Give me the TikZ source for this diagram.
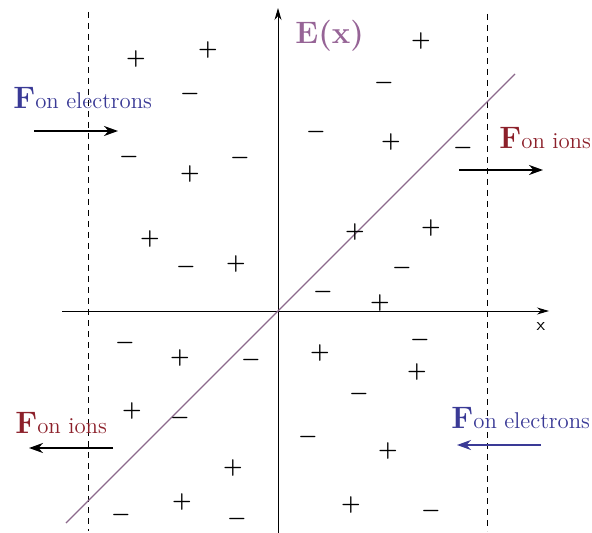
\documentclass[tikz,border=0pt]{standalone}
\usetikzlibrary{arrows.meta}
\definecolor{eblue}{RGB}{58,58,150}
\definecolor{ired}{RGB}{140,32,42}
\definecolor{epurple}{RGB}{150,100,150}
\definecolor{lpurple}{RGB}{140,105,140}
\tikzset{
  axis/.style={line width=0.5pt,-{Stealth[length=6pt,width=3.5pt]}},
  guide/.style={line width=0.5pt,dashed,dash pattern=on 3pt off 2.5pt},
  force/.style={line width=1pt,-{Stealth[length=7pt,width=5pt]}},
  chg/.style={inner sep=0pt,font=\fontsize{10.5}{10.5}\selectfont\boldmath},
  flabel/.style={anchor=base west,inner sep=0pt},
}
\newcommand{\Flab}[1]{{\fontsize{15.5}{15.5}\selectfont\bfseries F}{\fontsize{11.4}{12}\selectfont #1}}
\begin{document}
\begin{tikzpicture}[x=0.5pt,y=-0.5pt]
\useasboundingbox (0,0) rectangle (592,533);
% axes
\coordinate (ybot) at (278,533);
\coordinate (ytop) at (278,8);
\coordinate (xl) at (62,311);
\coordinate (xr) at (549,311);
\draw[axis] (ybot) -- (ytop);
\draw[axis] (xl) -- (xr);
\node[inner sep=0pt,font=\sffamily\fontsize{9}{9}\selectfont] (xlab) at (541,327) {x};
% dashed boundaries
\coordinate (d1t) at (88,12); \coordinate (d1b) at (88,531);
\coordinate (d2t) at (487,14); \coordinate (d2b) at (487,531);
\draw[guide] (d1t) -- (d1b);
\draw[guide] (d2t) -- (d2b);
% field line
\coordinate (e1) at (66,523); \coordinate (e2) at (515,74);
\draw[lpurple,line width=0.6pt] (e1) -- (e2);
\node[flabel,text=epurple,font=\fontsize{15.5}{15.5}\selectfont\bfseries] (elab) at (295,44) {E(x)};
% charges
\foreach \x/\y/\s [count=\i] in {
136/59/+,208/50/+,190/94/-,129/157/-,190/174/+,240/158/-,150/239/+,186/267/-,236/264/+,
421/41/+,384/83/-,316/132/-,391/142/+,463/148/-,355/232/+,431/228/+,402/268/-,323/292/-,380/303/+,
125/343/-,180/358/+,251/360/-,132/411/+,180/418/-,233/468/+,121/515/-,182/502/+,237/519/-,
320/353/+,420/340/-,417/372/+,359/394/-,308/437/-,388/451/+,351/505/+,431/511/-}
  \node[chg] (c\i) at (\x,\y) {$\s$};
% force labels and arrows
\node[flabel,text=eblue] (f1) at (13,109) {\Flab{on electrons}};
\coordinate (a1s) at (34,131); \coordinate (a1e) at (118,131);
\draw[force,-{Stealth[length=7pt,width=5pt,fill=eblue]}] (a1s) -- (a1e);
\node[flabel,text=ired] (f2) at (499,149) {\Flab{on ions}};
\coordinate (a2s) at (459,170); \coordinate (a2e) at (543,170);
\draw[force] (a2s) -- (a2e);
\node[flabel,text=ired] (f3) at (15,433) {\Flab{on ions}};
\coordinate (a3s) at (113,448); \coordinate (a3e) at (29,448);
\draw[force] (a3s) -- (a3e);
\node[flabel,text=eblue] (f4) at (451,428) {\Flab{on electrons}};
\coordinate (a4s) at (541,445); \coordinate (a4e) at (457,445);
\draw[force,eblue] (a4s) -- (a4e);
\end{tikzpicture}
\end{document}
